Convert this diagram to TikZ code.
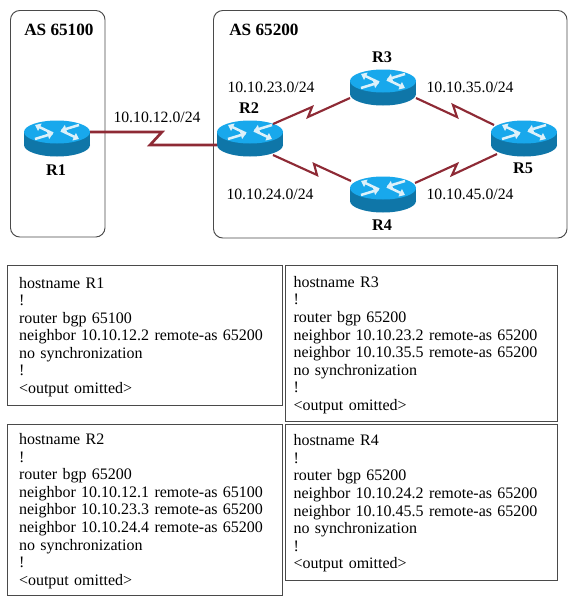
\documentclass[tikz,border=0pt]{standalone}
\usepackage{fontspec}
\setmainfont{Liberation Serif}
\usetikzlibrary{arrows.meta,calc}
\definecolor{rtop}{HTML}{18A8EC}
\definecolor{rside}{HTML}{0F76A8}
\definecolor{rarr}{HTML}{DDF1FA}
\definecolor{linkred}{HTML}{8E2A35}
\definecolor{boxline}{HTML}{4A4A4A}
\tikzset{
  routerbox/.style={minimum width=49.5pt,minimum height=27.5pt,inner sep=0pt,outer sep=0pt},
  asbox/.style={draw=boxline,line width=0.7pt,rounded corners=7pt,fill=white},
  cfgbox/.style={draw=boxline,line width=0.75pt,inner ysep=0pt,outer sep=0pt,align=left,font=\fontsize{12pt}{13.2pt}\selectfont,anchor=north west},
  lbl/.style={font=\fontsize{11.8pt}{13pt}\selectfont,inner sep=0pt},
  rname/.style={font=\fontsize{12.2pt}{13pt}\selectfont\bfseries,inner sep=0pt},
  asname/.style={font=\fontsize{12.9pt}{14pt}\selectfont\bfseries,inner sep=0pt},
  link/.style={draw=linkred,line width=1.6pt,line join=miter},
  rarrow/.style={draw=rarr,line width=1.9pt,-{Triangle[length=4pt,width=6pt]}}
}
\newcommand{\routericon}[3]{%
  \begin{scope}[shift={(#1,#2)}]
    \fill[rside] (0,7) ellipse[x radius=33,y radius=11.5];
    \fill[rside] (-33,-6) rectangle (33,7);
    \fill[rtop] (0,-6) ellipse[x radius=33,y radius=11.5];
    \draw[rarrow] (-4,-4.5) -- (-22,-13);
    \draw[rarrow] (22,-13) -- (4,-7.5);
    \draw[rarrow] (4,-7.5) -- (22,1);
    \draw[rarrow] (-22,1) -- (-4,-4.5);
    \node[routerbox] (#3) at (0,0) {};
  \end{scope}}
\begin{document}
\begin{tikzpicture}[x=0.75pt,y=-0.75pt]
\useasboundingbox (0,0) rectangle (570,600);
\fill[white] (0,0) rectangle (570,600);
\draw[asbox] (10.5,10.5) rectangle (105,237);
\draw[asbox] (213.5,10.5) rectangle (567,238);
\node[asname,anchor=base west] (as1) at (24,35) {AS 65100};
\node[asname,anchor=base west] (as2) at (229,35) {AS 65200};
\routericon{57}{138}{R1}
\routericon{250}{138}{R2}
\routericon{383}{87}{R3}
\routericon{383}{194}{R4}
\routericon{524}{138}{R5}
\draw[link,line width=2pt] ($(R1)+(33,-6)$) -- (162,132) -- (150,145) -- ($(R2)+(-33,7)$);
\draw[link] ($(R2)+(23,-14)$) -- (312,107) -- (308,117) -- ($(R3)+(-33,11)$);
\draw[link] ($(R2)+(23,17)$) -- (317,175) -- (314,164) -- ($(R4)+(-32,-13)$);
\draw[link] ($(R3)+(33,11)$) -- (457,117) -- (453,105) -- ($(R5)+(-30,-13)$);
\draw[link] ($(R4)+(32,-11)$) -- (457,164) -- (452,175) -- ($(R5)+(-27,16)$);
\node[rname] (t1) at (56,170) {R1};
\node[rname] (t2) at (249,108) {R2};
\node[rname] (t3) at (382,57) {R3};
\node[rname] (t4) at (382,225) {R4};
\node[rname] (t5) at (523,168) {R5};
\node[lbl] (n12) at (157,117) {10.10.12.0/24};
\node[lbl] (n23) at (271,87) {10.10.23.0/24};
\node[lbl] (n24) at (270,194) {10.10.24.0/24};
\node[lbl] (n35) at (470,87) {10.10.35.0/24};
\node[lbl] (n45) at (470,194) {10.10.45.0/24};
\node[cfgbox,inner xsep=9pt,text width=188.25pt,minimum height=105pt] (c1) at (7,265.5) {\rule{0pt}{10.5pt}hostname R1\\!\\router bgp 65100\\neighbor 10.10.12.2 remote-as 65200\\no synchronization\\!\\<output omitted>};
\node[cfgbox,inner xsep=6pt,text width=192pt,minimum height=117pt] (c3) at (285.5,265.5) {\rule{0pt}{10.5pt}hostname R3\\!\\router bgp 65200\\neighbor 10.10.23.2 remote-as 65200\\neighbor 10.10.35.5 remote-as 65200\\no synchronization\\!\\<output omitted>};
\node[cfgbox,inner xsep=9pt,text width=188.25pt,minimum height=128.5pt] (c2) at (7,424) {\rule{0pt}{10.5pt}hostname R2\\!\\router bgp 65200\\neighbor 10.10.12.1 remote-as 65100\\neighbor 10.10.23.3 remote-as 65200\\neighbor 10.10.24.4 remote-as 65200\\no synchronization\\!\\<output omitted>};
\node[cfgbox,inner xsep=6pt,text width=192pt,minimum height=117pt] (c4) at (285.5,424) {\rule{0pt}{10.5pt}hostname R4\\!\\router bgp 65200\\neighbor 10.10.24.2 remote-as 65200\\neighbor 10.10.45.5 remote-as 65200\\no synchronization\\!\\<output omitted>};
\end{tikzpicture}
\end{document}
